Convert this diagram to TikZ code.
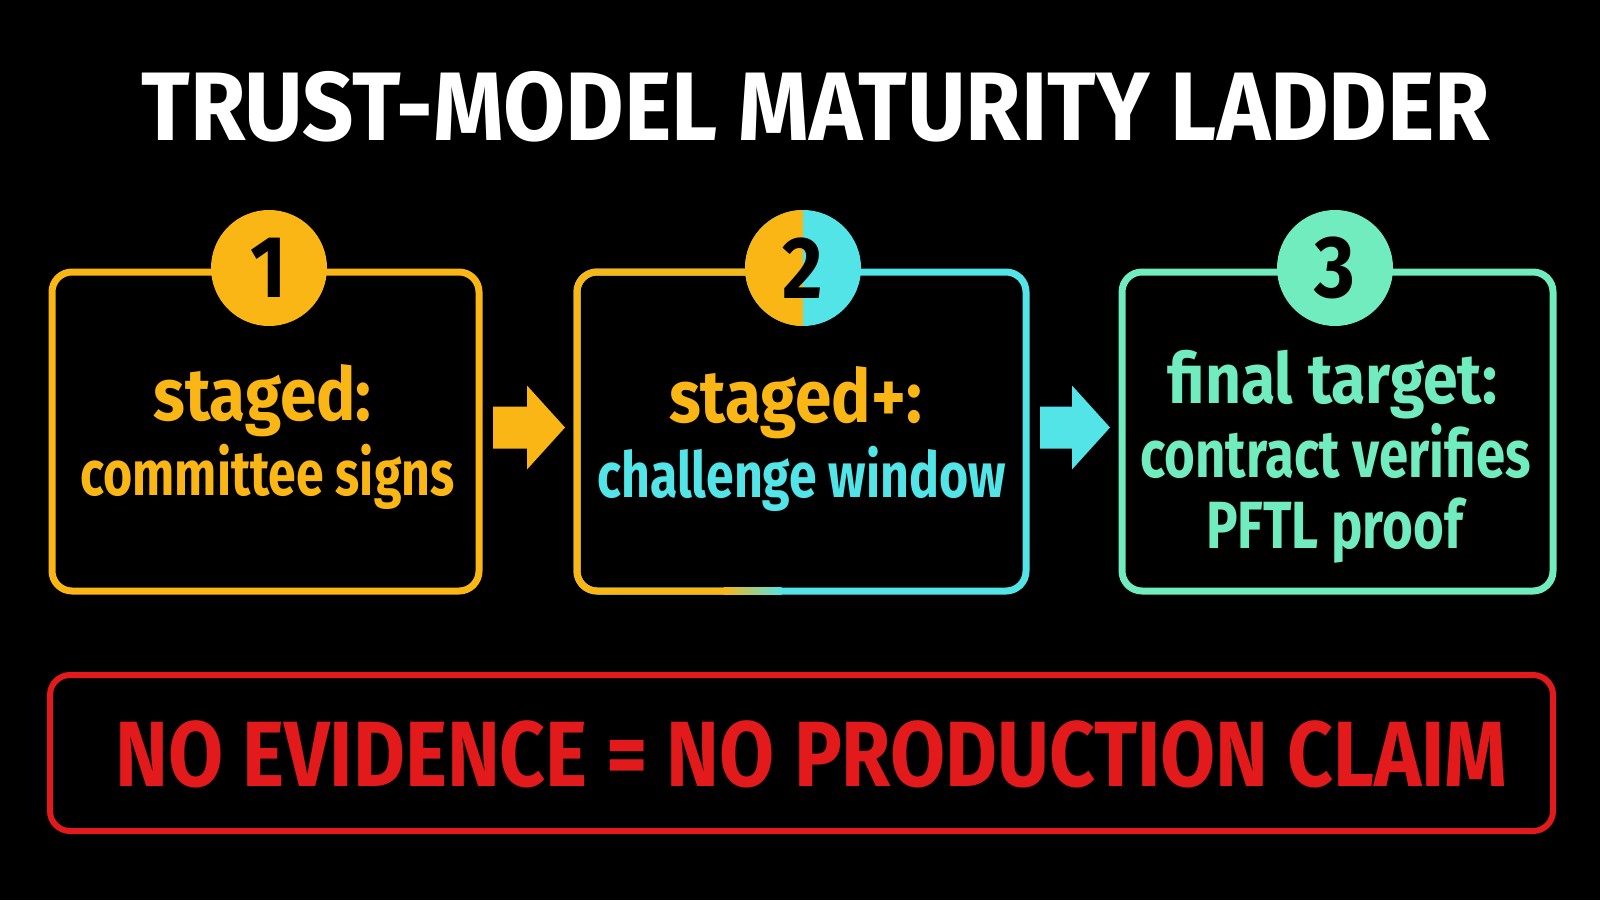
\documentclass[tikz,border=0pt]{standalone}
\usepackage{fontspec}
\setmainfont{Fira Sans}
\newfontfamily\titlefont[FakeStretch=0.925]{Fira Sans}
\newfontfamily\headfont[FakeStretch=0.89]{Fira Sans}
\newfontfamily\subfont[FakeStretch=0.79]{Fira Sans}
\newfontfamily\alertfont[FakeStretch=0.86]{Fira Sans}
\usetikzlibrary{calc, positioning}
\definecolor{stageorange}{RGB}{250,182,20}
\definecolor{stagecyan}{RGB}{82,228,230}
\definecolor{stagemint}{RGB}{112,236,190}
\definecolor{alertred}{RGB}{226,26,28}

\begin{document}
\begin{tikzpicture}[
		stage/.style={draw, rounded corners=0.2cm, line width=0.07cm, minimum width=#1,
			minimum height=3.19cm, outer sep=0pt, inner sep=0pt},
		badge/.style={circle, minimum size=1.16cm, inner sep=0pt, text=black,
			font=\headfont\bfseries\fontsize{25}{30}\selectfont},
		headline/.style={anchor=base, inner sep=0pt, font=\headfont\bfseries\fontsize{#1}{#1}\selectfont},
		headline/.default=21,
		subline/.style={anchor=base, inner sep=0pt, font=\subfont\bfseries\fontsize{#1}{#1}\selectfont},
		subline/.default=18
	]
	\fill[black] (0,0) rectangle (16,9);
	\useasboundingbox (0,0) rectangle (16,9);

	\node[font=\titlefont\bfseries\fontsize{27.7}{30}\selectfont, text=white] (title) at (8.16,7.935)
	{TRUST-MODEL MATURITY LADDER};

	\node[stage=4.27cm, draw=stageorange] (box1) at (2.655,4.685) {};
	\node[stage=4.49cm, draw=stagecyan] (box2) at (8.015,4.685) {};
	\node[stage=4.31cm, draw=stagemint] (box3) at (13.375,4.685) {};

	\node[headline, text=stageorange] (head1) at ($(box1.center)+(-0.03,0.115)$) {staged:};
	\node[subline, text=stageorange] (sub1) at ($(box1.center)+(0.02,-0.635)$) {committee signs};
	\node[headline, text=stageorange] (head2) at ($(box2.center)+(-0.06,0.095)$) {staged+:};
	\node[subline, text=stagecyan] (sub2) at ($(box2.center)+(0,-0.655)$) {challenge window};
	\node[headline=20, text=stagemint] (head3) at ($(box3.center)+(-0.05,0.285)$) {final target:};
	\node[subline=19, text=stagemint] (sub3) at ($(box3.center)+(-0.02,-0.455)$) {contract verifies};
	\node[subline=19, text=stagemint] (sub3b) at ($(box3.center)+(-0.03,-1.165)$) {PFTL proof};

	\begin{scope}
		\clip ($(box2.south west)+(-0.2,-0.2)$) rectangle ($(box2.north)+(-0.5,0.2)$);
		\draw[stageorange, line width=0.07cm, rounded corners=0.2cm] (box2.south west) rectangle (box2.north east);
	\end{scope}
	\shade[left color=stageorange, right color=stagecyan]
	($(box2.south)+(-0.78,-0.035)$) rectangle ($(box2.south)+(-0.2,0.035)$);

	\node[badge, fill=stageorange] (num1) at ($(box1.north)+(0.035,0.04)$) {1};
	\node[badge, fill=stagecyan, path picture={\fill[stageorange] (path picture bounding box.south west)
		rectangle (path picture bounding box.north);}] (num2) at ($(box2.north)+(0.015,0.04)$) {2};
	\node[badge, fill=stagemint] (num3) at ($(box3.north)+(-0.025,0.04)$) {3};

	\foreach \from/\to/\col in {box1/box2/stageorange, box2/box3/stagecyan} {
		\coordinate (tail) at ($(\from.east)+(0.14,0.04)$);
		\coordinate (tip) at ($(\to.west)+(-0.12,0.04)$);
		\fill[\col] ($(tail)+(0,0.21)$) -- ($(tip)+(-0.38,0.21)$) -- ($(tip)+(-0.38,0.42)$) -- (tip)
		-- ($(tip)+(-0.38,-0.42)$) -- ($(tip)+(-0.38,-0.21)$) -- ($(tail)+(0,-0.21)$) -- cycle;
	}

	\node[draw=alertred, line width=0.06cm, rounded corners=0.2cm, minimum width=15.03cm,
	minimum height=1.56cm, outer sep=0pt] (alert) at (8.015,1.47) {};
	\node[font=\alertfont\bfseries\fontsize{26.4}{30}\selectfont, text=alertred] (claim)
	at ($(alert.center)+(0.1,-0.01)$) {NO EVIDENCE = NO PRODUCTION CLAIM};
\end{tikzpicture}
\end{document}
